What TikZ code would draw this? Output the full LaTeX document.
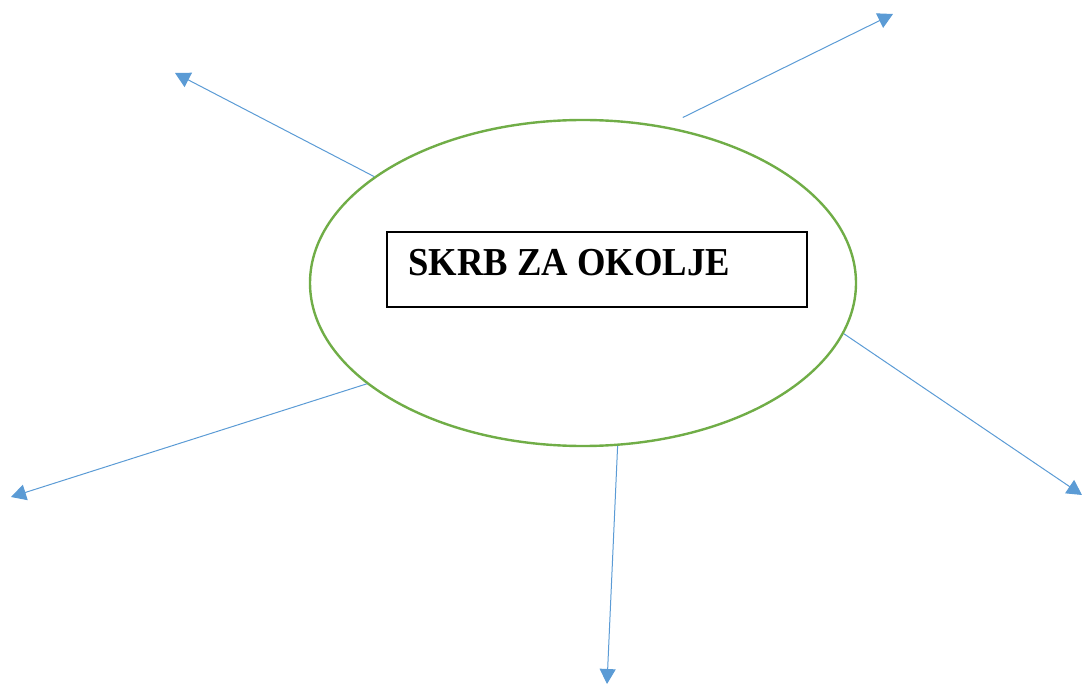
\documentclass[tikz,border=0pt]{standalone}
\usepackage{fontspec}
\setmainfont{Liberation Serif}
\newfontfamily\naslovfont[FakeStretch=0.925]{Liberation Serif}
\usetikzlibrary{arrows.meta,shapes.geometric}
\definecolor{strelica}{HTML}{5B9BD5}
\definecolor{zelena}{HTML}{70AD47}
\tikzset{
  krug/.style={ellipse,draw=zelena,line width=1.2pt,minimum width=273pt,minimum height=163pt,inner sep=0pt},
  kutija/.style={rectangle,draw,line width=0.6pt,minimum width=210pt,minimum height=37.5pt,inner sep=0pt},
  naslov/.style={font=\naslovfont\bfseries\fontsize{19.8}{24}\selectfont,inner sep=0pt},
  grana/.style={draw=strelica,line width=0.5pt,-{Triangle[length=7.5pt,width=8pt]}}
}
\begin{document}
\begin{tikzpicture}[x=0.5pt,y=-0.5pt]
    \useasboundingbox (0,0) rectangle (1082,684);
    \node[krug] (okolje) at (583,283) {};
    \node[kutija] (kutija) at (597,269.5) {};
    \node[naslov,anchor=base west] (naslov) at (408,276) {SKRB ZA OKOLJE};
    \coordinate (k1) at (175,73);
    \coordinate (k2) at (893,14);
    \coordinate (k3) at (1082,495);
    \coordinate (k4) at (607,684);
    \coordinate (k5) at (11,497);
    \draw[grana] (okolje.153) -- (k1);
    \draw[grana] ([xshift=3.5pt,yshift=5.5pt]okolje.59) -- (k2);
    \draw[grana] (okolje.-11) -- (k3);
    \draw[grana] (okolje.-78) -- (k4);
    \draw[grana] (okolje.205) -- (k5);
  \end{tikzpicture}
\end{document}
